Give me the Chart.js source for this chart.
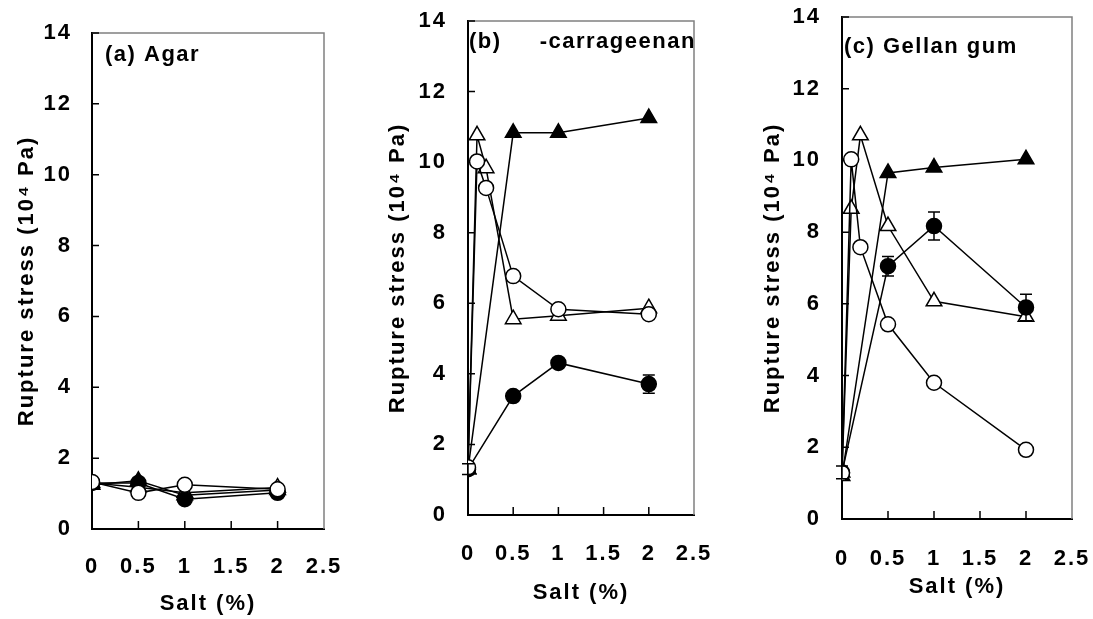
<!DOCTYPE html>
<html>
<head>
<meta charset="utf-8">
<script src="https://cdn.jsdelivr.net/npm/chart.js@4.4.0/dist/chart.umd.min.js"></script>
<style>
  html, body { margin: 0; padding: 0; background: #fff; }
  canvas { position: absolute; top: 0; }
</style>
</head>
<body>
<canvas id="agar" width="365" height="619" style="left:0px"></canvas>
<canvas id="carr" width="363" height="619" style="left:365px"></canvas>
<canvas id="gellan" width="365" height="619" style="left:728px"></canvas>
<script>
// x axis (salt %) ticks
const saltTicks = [0, 0.5, 1, 1.5, 2, 2.5];
const saltTickLabels = ['0', '0.5', '1', '1.5', '2', '2.5'];
const stressTicks = [0, 2, 4, 6, 8, 10, 12, 14];
const stressTickLabels = ['0', '2', '4', '6', '8', '10', '12', '14'];

// (a) Agar
const saltA = [0, 0.5, 1, 2];
const agarOpenCircle = [1.33, 1.02, 1.25, 1.12];
const agarFilledCircle = [1.3, 1.3, 0.84, 1.02];
const agarOpenTriangle = [1.3, 1.18, 1.02, 1.17];
const agarFilledTriangle = [1.25, 1.36, 0.95, 1.1];

// (b) carrageenan
const saltFine = [0, 0.1, 0.2, 0.5, 1, 2];
const saltCoarse = [0, 0.5, 1, 2];
const carrOpenCircle = [1.35, 10.02, 9.27, 6.77, 5.83, 5.69];
const carrOpenTriangle = [1.3, 10.76, 9.83, 5.55, 5.65, 5.86];
const carrFilledCircle = [1.3, 3.37, 4.31, 3.71];
const carrFilledCircleErr = [0.15, 0, 0, 0.26];
const carrFilledTriangle = [1.3, 10.83, 10.83, 11.25];

// (c) Gellan gum
const gellanOpenCircle = [1.28, 10.03, 7.58, 5.43, 3.8, 1.93];
const gellanOpenTriangle = [1.3, 8.65, 10.7, 8.17, 6.07, 5.64];
const gellanFilledCircle = [1.3, 7.05, 8.17, 5.9];
const gellanFilledCircleErr = [0.18, 0.27, 0.39, 0.37];
const gellanFilledTriangle = [1.2, 9.65, 9.8, 10.03];

const fontFamily = '"Liberation Sans", Arial, sans-serif';
const bigFont = { family: fontFamily, size: 22, weight: 'bold' };

function pts(xs, ys) {
  return xs.map((x, i) => ({ x: x, y: ys[i] }));
}

function series(xs, ys, style, filled, errs) {
  return {
    data: pts(xs, ys),
    showLine: true,
    borderColor: '#000',
    borderWidth: 1.5,
    pointStyle: style,
    pointRadius: style === 'triangle' ? 9 : 7.5,
    pointHoverRadius: style === 'triangle' ? 9 : 7.5,
    pointBackgroundColor: filled ? '#000' : '#fff',
    pointBorderColor: '#000',
    pointBorderWidth: 1.5,
    errors: errs || null
  };
}

const spacing = {
  id: 'spacing',
  beforeUpdate(chart) { chart.ctx.letterSpacing = '2px'; },
  beforeDraw(chart) { chart.ctx.letterSpacing = '2px'; }
};

const frame = {
  id: 'frame',
  beforeDatasetsDraw(chart) {
    const { ctx, chartArea: a, scales: { x, y } } = chart;
    ctx.save();
    ctx.strokeStyle = '#808080';
    ctx.lineWidth = 1.5;
    ctx.beginPath();
    ctx.moveTo(a.left, a.top);
    ctx.lineTo(a.right, a.top);
    ctx.lineTo(a.right, a.bottom);
    ctx.stroke();
    ctx.strokeStyle = '#000';
    ctx.beginPath();
    y.ticks.forEach(t => {
      if (t.value > 0) {
        const p = y.getPixelForValue(t.value);
        ctx.moveTo(a.left, p);
        ctx.lineTo(a.left + 7, p);
      }
    });
    x.ticks.forEach(t => {
      if (t.value > 0 && t.value < 2.5) {
        const p = x.getPixelForValue(t.value);
        ctx.moveTo(p, a.bottom);
        ctx.lineTo(p, a.bottom - 8);
      }
    });
    ctx.stroke();
    ctx.restore();
  }
};

const errorBars = {
  id: 'errorBars',
  afterDatasetsDraw(chart) {
    const { ctx, scales: { x, y } } = chart;
    ctx.save();
    ctx.strokeStyle = '#000';
    ctx.lineWidth = 1.5;
    chart.data.datasets.forEach(ds => {
      if (!ds.errors) return;
      ds.data.forEach((p, i) => {
        const e = ds.errors[i];
        if (!e) return;
        const px = x.getPixelForValue(p.x);
        const top = y.getPixelForValue(p.y + e);
        const bot = y.getPixelForValue(p.y - e);
        ctx.beginPath();
        ctx.moveTo(px, top); ctx.lineTo(px, bot);
        ctx.moveTo(px - 6, top); ctx.lineTo(px + 6, top);
        ctx.moveTo(px - 6, bot); ctx.lineTo(px + 6, bot);
        ctx.stroke();
      });
    });
    ctx.restore();
  }
};

const panelLabel = {
  id: 'panelLabel',
  afterDraw(chart, args, o) {
    const ctx = chart.ctx, a = chart.chartArea;
    ctx.save();
    ctx.font = 'bold 22px ' + fontFamily;
    ctx.letterSpacing = '1.5px';
    ctx.fillStyle = '#000';
    ctx.textBaseline = 'middle';
    ctx.fillText(o.text, a.left + o.dx, a.top + o.dy);
    ctx.restore();
  }
};

// drop the label overflow padding chart.js adds, so the plot box sits where we want it
function noPad(s) {
  s.paddingLeft = 0; s.paddingRight = 0;
  s.paddingTop = 0; s.paddingBottom = 0;
}

function panel(id, label, datasets, box) {
  return new Chart(document.getElementById(id), {
    type: 'scatter',
    data: { datasets: datasets },
    options: {
      responsive: false,
      animation: false,
      layout: { padding: { left: 0, top: box.top, right: box.right, bottom: 0 } },
      plugins: {
        legend: { display: false },
        tooltip: { enabled: false },
        panelLabel: label
      },
      scales: {
        x: {
          type: 'linear', min: 0, max: 2.5,
          afterBuildTicks: s => { s.ticks = saltTicks.map(v => ({ value: v })); },
          afterFit: s => { s.height = box.xh; noPad(s); },
          ticks: {
            font: bigFont, color: '#000', padding: box.xpad,
            autoSkip: false, maxRotation: 0, minRotation: 0,
            callback: (v, i) => saltTickLabels[i]
          },
          grid: { display: false, drawTicks: false },
          border: { color: '#000', width: 2 },
          title: { display: true, text: 'Salt (%)', font: bigFont, color: '#000', padding: { top: 0, bottom: box.xtp } }
        },
        y: {
          type: 'linear', min: 0, max: 14,
          afterBuildTicks: s => { s.ticks = stressTicks.map(v => ({ value: v })); },
          afterFit: s => { s.width = box.yw; noPad(s); },
          ticks: {
            font: bigFont, color: '#000', padding: box.ypad,
            autoSkip: false,
            callback: (v, i) => stressTickLabels[i]
          },
          grid: { display: false, drawTicks: false },
          border: { color: '#000', width: 2 },
          title: { display: true, text: 'Rupture stress (10\u2074 Pa)', font: bigFont, color: '#000', padding: { top: box.ytp, bottom: 0 } }
        }
      }
    },
    plugins: [spacing, frame, errorBars, panelLabel]
  });
}

panel('agar', { text: '(a) Agar', dx: 13, dy: 22 }, [
  series(saltA, agarOpenCircle, 'circle', false),
  series(saltA, agarFilledCircle, 'circle', true),
  series(saltA, agarOpenTriangle, 'triangle', false),
  series(saltA, agarFilledTriangle, 'triangle', true)
], { top: 33, right: 41, yw: 92, xh: 90, ypad: 20, xpad: 25, xtp: 2, ytp: 14 });

panel('carr', { text: '(b)     -carrageenan', dx: 1, dy: 21 }, [
  series(saltFine, carrOpenCircle, 'circle', false),
  series(saltCoarse, carrFilledCircle, 'circle', true, carrFilledCircleErr),
  series(saltFine, carrOpenTriangle, 'triangle', false),
  series(saltCoarse, carrFilledTriangle, 'triangle', true)
], { top: 21, right: 34, yw: 103, xh: 104, ypad: 21, xpad: 26, xtp: 13, ytp: 20 });

panel('gellan', { text: '(c) Gellan gum', dx: 2, dy: 30 }, [
  series(saltFine, gellanOpenCircle, 'circle', false),
  series(saltCoarse, gellanFilledCircle, 'circle', true, gellanFilledCircleErr),
  series(saltFine, gellanOpenTriangle, 'triangle', false),
  series(saltCoarse, gellanFilledTriangle, 'triangle', true)
], { top: 17, right: 21, yw: 114, xh: 100, ypad: 21, xpad: 27, xtp: 19, ytp: 32 });
</script>
</body>
</html>
